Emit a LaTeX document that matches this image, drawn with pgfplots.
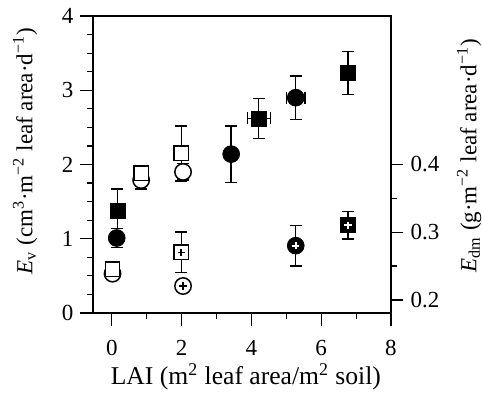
\documentclass[border=0pt]{standalone}
\usepackage{pgfplots}
\pgfplotsset{compat=1.18}
\usepackage{pgfplotstable}
\usepackage{fontspec}
\setmainfont{Liberation Serif}

% E_v series (left axis)
\pgfplotstableread{
x    y     ex    eyp   eym
0.16 1.38  0     0.29  0.24
4.21 2.62  0.33  0.27  0.27
6.77 3.23  0     0.29  0.29
}\evsqfill
\pgfplotstableread{
x    y     ex    eyp   eym
0.14 1.01  0     0.13  0.13
3.42 2.14  0     0.38  0.38
5.27 2.90  0.26  0.29  0.29
}\evcircfill
\pgfplotstableread{
x    y     ex    eyp   eym
0.02 0.53  0     0     0
0.84 1.79  0     0.12  0.12
2.04 1.90  0     0.11  0.11
}\evcircopen
\pgfplotstableread{
x    y     ex    eyp   eym
0.02 0.59  0     0     0
0.84 1.88  0     0     0
1.99 2.15  0.14  0.37  0.37
}\evsqopen
% E_dm series (right axis)
\pgfplotstableread{
x    y      eyp   eym
1.99 0.270  0.030 0.030
}\edmsqopen
\pgfplotstableread{
x    y      eyp   eym
2.04 0.2205 0     0
}\edmcircopen
\pgfplotstableread{
x    y      eyp   eym
5.27 0.280  0.030 0.030
}\edmcircfill
\pgfplotstableread{
x    y      eyp   eym
6.77 0.310  0.020 0.020
}\edmsqfill

\pgfplotsset{
  common/.style={
    scale only axis, width=149pt, height=148.5pt,
    xmin=-0.54, xmax=8,
    tick align=outside,
    major tick length=6.25pt, minor tick length=3pt,
    axis line style={line width=0.6pt},
    every tick/.style={black, line width=0.6pt},
    /pgf/number format/assume math mode=true,
    error bars/error bar style={line width=0.7pt},
    error bars/error mark=-,
    error bars/error mark options={rotate=90, mark size=3pt, line width=0.7pt},
  },
  sqfill/.style={only marks, mark=square*, mark size=3.75pt, mark options={fill=black, draw=black}},
  sqopen/.style={only marks, mark=square*, mark size=3.6pt, mark options={fill=white, draw=black, line width=0.75pt}},
  cfill/.style={only marks, mark=*, mark size=4.2pt, mark options={fill=black, draw=black}},
  copen/.style={only marks, mark=*, mark size=4.1pt, mark options={fill=white, draw=black, line width=0.75pt}},
  errs/.style={error bars/.cd, y dir=both, y explicit, x dir=both, x explicit},
  yerrs/.style={error bars/.cd, y dir=both, y explicit},
}

\begin{document}
\begin{tikzpicture}[font=\fontsize{11.5}{13}\selectfont]
\useasboundingbox (-46.5pt,-44.5pt) rectangle (194.5pt,156.5pt);
\begin{axis}[common, name=ax1,
  ymin=0, ymax=4,
  xtick={0,2,4,6,8}, minor xtick={1,3,5,7},
  ytick={0,1,2,3,4}, minor y tick num=3,
  xtick pos=lower, ytick pos=left,
  xticklabel style={anchor=base, yshift=-15pt},
  xlabel={LAI (m\textsuperscript{2} leaf area/m\textsuperscript{2} soil)},
  xlabel style={at={(axis description cs:0.513,0)}, anchor=base, yshift=-35.5pt, inner sep=0pt, font=\fontsize{12.8}{14}\selectfont},
  ylabel={\textit{E}\textsubscript{v} (cm\textsuperscript{3}·m\textsuperscript{−2} leaf area·d\textsuperscript{−1})},
  ylabel style={at={(axis description cs:-0.228,0.545)}, anchor=center, inner sep=0pt},
]
\addplot[copen, errs] table[x=x, y=y, x error=ex, y error plus=eyp, y error minus=eym]{\evcircopen};
\addplot[sqopen, errs] table[x=x, y=y, x error=ex, y error plus=eyp, y error minus=eym]{\evsqopen};
\addplot[cfill, errs] table[x=x, y=y, x error=ex, y error plus=eyp, y error minus=eym]{\evcircfill};
\addplot[sqfill, errs] table[x=x, y=y, x error=ex, y error plus=eyp, y error minus=eym]{\evsqfill};
\end{axis}
\begin{axis}[common,
  ymin=0.1807, ymax=0.6187,
  axis x line=none, axis y line*=right,
  ytick={0.2,0.3,0.4}, minor ytick={0.25,0.35},
  yticklabel style={/pgf/number format/fixed, /pgf/number format/precision=1, /pgf/number format/fixed zerofill},
  ylabel={\textit{E}\textsubscript{dm} (g·m\textsuperscript{−2} leaf area·d\textsuperscript{−1})},
  ylabel style={at={(axis description cs:1.262,0.53)}, anchor=center, inner sep=0pt},
]
\addplot[copen, yerrs] table[x=x, y=y, y error plus=eyp, y error minus=eym]{\edmcircopen};
\addplot[only marks, mark=+, mark size=1.8pt, mark options={line width=0.9pt, black}] table[x=x, y=y]{\edmcircopen};
\addplot[sqopen, yerrs] table[x=x, y=y, y error plus=eyp, y error minus=eym]{\edmsqopen};
\addplot[only marks, mark=+, mark size=1.8pt, mark options={line width=0.9pt, black}] table[x=x, y=y]{\edmsqopen};
\addplot[cfill, yerrs] table[x=x, y=y, y error plus=eyp, y error minus=eym]{\edmcircfill};
\addplot[only marks, mark=+, mark size=1.8pt, mark options={line width=0.9pt, white}] table[x=x, y=y]{\edmcircfill};
\addplot[sqfill, yerrs] table[x=x, y=y, y error plus=eyp, y error minus=eym]{\edmsqfill};
\addplot[only marks, mark=+, mark size=1.8pt, mark options={line width=0.9pt, white}] table[x=x, y=y]{\edmsqfill};
\end{axis}
\end{tikzpicture}
\end{document}
